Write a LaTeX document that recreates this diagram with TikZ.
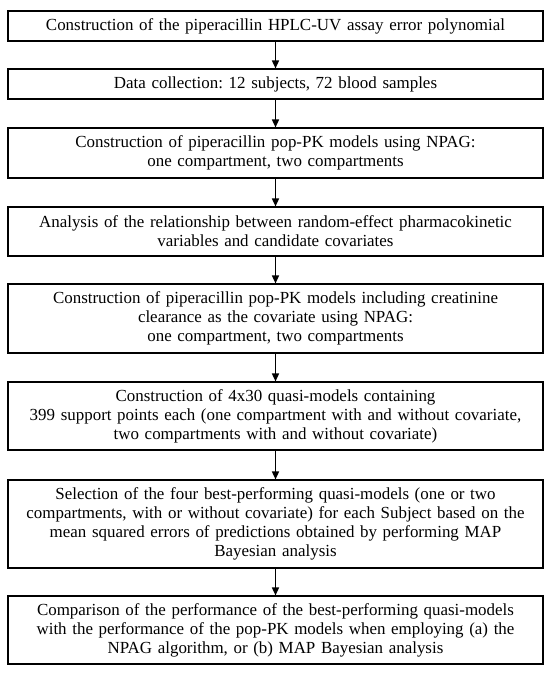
\documentclass[tikz,border=0pt]{standalone}
\usepackage{fontspec}
\setmainfont{Liberation Serif}
\usetikzlibrary{arrows.meta}
\frenchspacing

\begin{document}
\begin{tikzpicture}[x=1bp, y=1bp, every node/.style={font=\fontsize{17}{19}\selectfont},
	stagebox/.style={draw, line width=1.1bp, minimum width=535bp, text width=525bp, align=center, inner sep=0pt},
	flow/.style={-{Triangle[width=7bp,length=8bp]}, line width=1.5bp}]
	\useasboundingbox (0,0) rectangle (550,-674);

	% Boxes
	\node[stagebox, minimum height=30bp] (assay) at (275.5,-26) {Construction of the piperacillin HPLC-UV assay error polynomial};
	\node[stagebox, minimum height=30bp] (collect) at (275.5,-84) {Data collection: 12 subjects, 72 blood samples};
	\node[stagebox, minimum height=50bp] (popmodel) at (275.5,-153) {Construction of piperacillin pop-PK models using NPAG:\\ one compartment, two compartments};
	\node[stagebox, minimum height=49bp] (relation) at (275.5,-231.5) {Analysis of the relationship between random-effect pharmacokinetic\\ variables and candidate covariates};
	\node[stagebox, minimum height=69bp] (covmodel) at (275.5,-318.5) {Construction of piperacillin pop-PK models including creatinine\\ clearance as the covariate using NPAG:\\ one compartment, two compartments};
	\node[stagebox, minimum height=68bp] (quasi) at (275.5,-416) {Construction of 4x30 quasi-models containing\\ 399 support points each (one compartment with and without covariate,\\ two compartments with and without covariate)};
	\node[stagebox, minimum height=88bp] (select) at (275.5,-524) {Selection of the four best-performing quasi-models (one or two\\ compartments, with or without covariate) for each Subject based on the\\ mean squared errors of predictions obtained by performing MAP\\ Bayesian analysis};
	\node[stagebox, minimum height=68bp] (compare) at (275.5,-630) {Comparison of the performance of the best-performing quasi-models\\ with the performance of the pop-PK models when employing (a) the\\ NPAG algorithm, or (b) MAP Bayesian analysis};

	% Arrows
	\draw[flow] (assay) -- (collect);
	\draw[flow] (collect) -- (popmodel);
	\draw[flow] (popmodel) -- (relation);
	\draw[flow] (relation) -- (covmodel);
	\draw[flow] (covmodel) -- (quasi);
	\draw[flow] (quasi) -- (select);
	\draw[flow] (select) -- (compare);
\end{tikzpicture}
\end{document}
